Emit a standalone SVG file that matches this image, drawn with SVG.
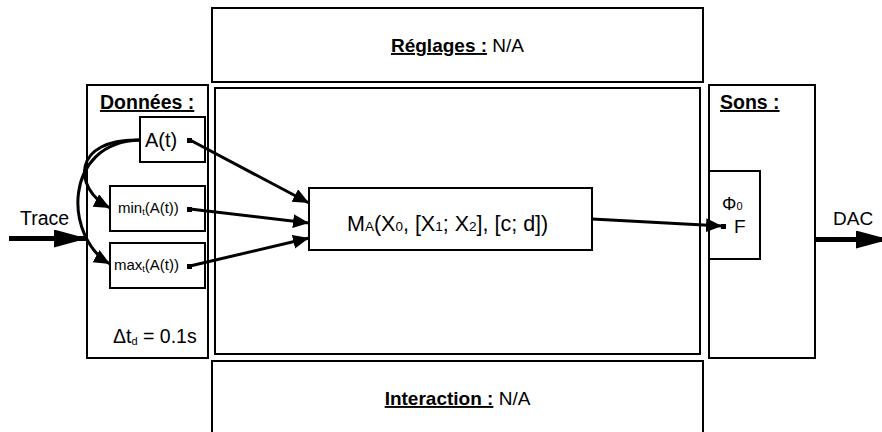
<svg xmlns="http://www.w3.org/2000/svg" width="882" height="432" viewBox="0 0 882 432">
<defs>
<style>
.box{fill:#fff;stroke:#000;stroke-width:2}
.t{font-family:"Liberation Sans",Arial,sans-serif;fill:#000}
.b{font-weight:bold;text-decoration:underline}
.c{fill:none;stroke:#000;stroke-width:3}
.big{fill:none;stroke:#000;stroke-width:5}
.port{fill:#000}
</style>
<marker id="ah" markerUnits="userSpaceOnUse" markerWidth="18" markerHeight="16" refX="16" refY="7" orient="auto">
<path d="M0,0 L16,7 L0,14 Z" fill="#000"/>
</marker>
<marker id="bh" markerUnits="userSpaceOnUse" markerWidth="36" markerHeight="20" refX="33" refY="9" orient="auto">
<path d="M0,0 L33,9 L0,18 Z" fill="#000"/>
</marker>
</defs>
<rect width="882" height="432" fill="#fff"/>

<g id="reglages">
<rect class="box" x="212" y="8" width="491" height="74"/>
<text class="t" x="457.5" y="52" font-size="19" text-anchor="middle"><tspan class="b">Réglages :</tspan> N/A</text>
</g>

<g id="centre">
<rect class="box" x="215" y="88" width="485" height="266"/>
</g>

<g id="interaction">
<rect class="box" x="212" y="361" width="491" height="74"/>
<text class="t" x="457.5" y="405" font-size="19" text-anchor="middle"><tspan class="b">Interaction :</tspan> N/A</text>
</g>

<g id="donnees">
<rect class="box" x="87" y="85" width="121" height="273"/>
<text class="t b" x="100" y="109" font-size="19.5">Données :</text>
<text class="t" x="113" y="343" font-size="19.5">Δt<tspan font-size="11" dy="2">d</tspan><tspan dy="-2"> = 0.1s</tspan></text>
</g>

<g id="at">
<rect class="box" x="140" y="117" width="65" height="45"/>
<text class="t" x="145" y="147" font-size="20">A(t)</text>
<rect class="port" x="187" y="138" width="5" height="5"/>
</g>

<g id="min">
<rect class="box" x="110" y="186" width="95" height="45"/>
<text class="t" x="118" y="213" font-size="15">min<tspan font-size="9" dy="2">t</tspan><tspan dy="-2">(A(t))</tspan></text>
<rect class="port" x="187" y="207" width="5" height="5"/>
</g>

<g id="max">
<rect class="box" x="110" y="243" width="95" height="45"/>
<text class="t" x="114" y="270" font-size="15">max<tspan font-size="9" dy="2">t</tspan><tspan dy="-2">(A(t))</tspan></text>
<rect class="port" x="187" y="264" width="5" height="5"/>
</g>

<g id="ma">
<rect class="box" x="309" y="188" width="283" height="62"/>
<text class="t" x="347" y="231" font-size="21.5">M<tspan font-size="13.5">A</tspan>(X<tspan font-size="13.5">0</tspan>, [X<tspan font-size="13.5">1</tspan>; X<tspan font-size="13.5">2</tspan>], [c; d])</text>
</g>

<g id="sons">
<rect class="box" x="709" y="85" width="106" height="273"/>
<text class="t b" x="720" y="109" font-size="19.5">Sons :</text>
</g>

<g id="phi">
<rect class="box" x="709" y="171" width="51" height="88"/>
<text class="t" x="722" y="210" font-size="18">Φ<tspan font-size="11">0</tspan></text>
<text class="t" x="734" y="233" font-size="19">F</text>
<rect class="port" x="721" y="224" width="5" height="5"/>
</g>

<g id="labels">
<text class="t" x="20" y="225" font-size="19.5">Trace</text>
<text class="t" x="833" y="225" font-size="19">DAC</text>
</g>

<g id="connectors">
<path class="big" d="M9,238.5 L87,238.5" marker-end="url(#bh)"/>
<path class="big" d="M815,239.5 L889,239.5" marker-end="url(#bh)"/>
<path class="c" d="M140,140 C72,138 72,188 110,208" marker-end="url(#ah)"/>
<path class="c" d="M140,140 C62,142 64,238 110,264" marker-end="url(#ah)"/>
<path class="c" d="M190,140 L309,203" marker-end="url(#ah)"/>
<path class="c" d="M190,209 L309,223" marker-end="url(#ah)"/>
<path class="c" d="M190,266 L309,238" marker-end="url(#ah)"/>
<path class="c" d="M592,219 L722,226" marker-end="url(#ah)"/>
</g>
</svg>
